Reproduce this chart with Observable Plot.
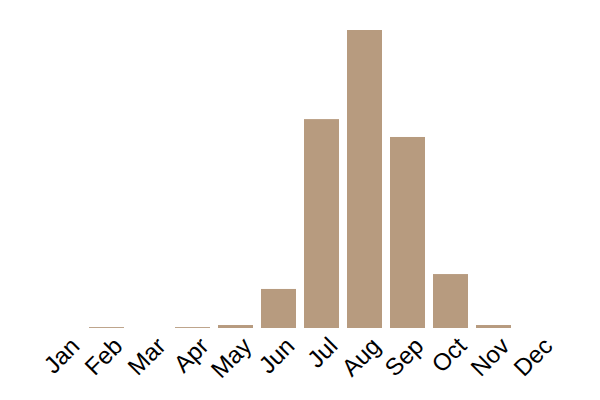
<!DOCTYPE html>
<html>
<head>
<meta charset="utf-8">
<script src="https://cdn.jsdelivr.net/npm/d3@7"></script>
<script src="https://cdn.jsdelivr.net/npm/@observablehq/plot@0.6"></script>
<style>
  html, body { margin: 0; padding: 0; background: #fff; }
</style>
</head>
<body>
<div id="chart"></div>
<script>
const months = ["Jan","Feb","Mar","Apr","May","Jun","Jul","Aug","Sep","Oct","Nov","Dec"];
const values = [0, 0.3, 0, 0.3, 1, 13.1, 70.1, 100, 64.1, 18.1, 1, 0];

const data = months.map((m, i) => ({month: m, value: values[i]}));

const chart = Plot.plot({
  width: 600,
  height: 400,
  marginTop: 30,
  marginBottom: 72,
  marginLeft: 32,
  marginRight: 32,
  style: {fontFamily: "'Liberation Sans', Arial, sans-serif", color: "#000", background: "#fff"},
  x: {domain: months, padding: 0.19, label: null, axis: null},
  y: {domain: [0, 100], axis: null},
  marks: [
    Plot.barY(data, {x: "month", y: "value", fill: "#b79b7f"}),
    Plot.text(months, {x: d => d, frameAnchor: "bottom", dx: 5, dy: 7, rotate: -45, textAnchor: "end", lineAnchor: "top", fontSize: 24, fill: "#000"})
  ]
});
document.getElementById("chart").appendChild(chart);
</script>
</body>
</html>
